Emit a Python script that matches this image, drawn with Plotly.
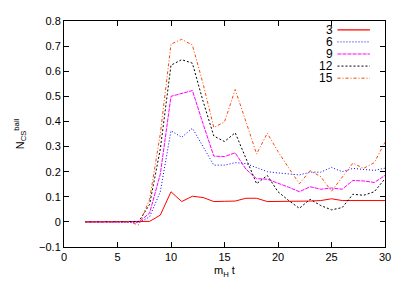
import plotly.graph_objects as go

# data
t = list(range(2, 31))
n3 = [0, 0, 0, 0, 0, 0, 0.002, 0.027, 0.12, 0.081, 0.102, 0.097, 0.081, 0.082,
      0.083, 0.094, 0.094, 0.081, 0.081, 0.081, 0.081, 0.083, 0.085, 0.092, 0.085,
      0.085, 0.085, 0.085, 0.085]
n6 = [0, 0, 0, 0, 0, -0.003, 0.02, 0.12, 0.363, 0.337, 0.373, 0.30, 0.226, 0.226,
      0.236, 0.232, 0.217, 0.2, 0.195, 0.19, 0.187, 0.198, 0.198, 0.217, 0.2,
      0.213, 0.21, 0.205, 0.214]
n9 = [0, 0, 0, 0, 0, 0, 0.035, 0.19, 0.50, 0.51, 0.523, 0.39, 0.262, 0.26,
      0.275, 0.21, 0.172, 0.17, 0.155, 0.138, 0.12, 0.14, 0.13, 0.135, 0.13,
      0.165, 0.163, 0.157, 0.185]
n12 = [0, 0, 0, 0, 0, 0.002, 0.07, 0.29, 0.624, 0.646, 0.632, 0.48, 0.342, 0.32,
       0.355, 0.25, 0.152, 0.185, 0.12, 0.085, 0.054, 0.09, 0.065, 0.048, 0.057,
       0.11, 0.106, 0.12, 0.172]
n15 = [0, 0, 0, 0, 0, -0.012, 0.09, 0.35, 0.708, 0.727, 0.704, 0.55, 0.376, 0.398,
       0.527, 0.40, 0.27, 0.353, 0.28, 0.215, 0.152, 0.204, 0.18, 0.122, 0.18,
       0.234, 0.213, 0.236, 0.317]

names = ["3", "6", "9", "12", "15"]
series = [n3, n6, n9, n12, n15]
colors = ["#ff0000", "#0000ff", "#ff00ff", "#000000", "#ff4500"]
dashes = ["solid", "1px,2px", "4px,1px", "2px,2px", "3px,2px,1px,2px"]

FONT = "Liberation Sans, Arial, sans-serif"

fig = go.Figure()
for name, y, c, d in zip(names, series, colors, dashes):
    fig.add_trace(go.Scatter(x=t, y=y, mode="lines", name=name,
                             line=dict(color=c, width=1, dash=d)))

# gnuplot-style key: label on the left, sample on the right
for i, (name, c, d) in enumerate(zip(names, colors, dashes)):
    yk = 0.961 - i * 0.0535
    fig.add_annotation(x=0.84, y=yk, xref="paper", yref="paper", text=name,
                       showarrow=False, xanchor="right", yanchor="middle",
                       height=12, borderpad=0,
                       font=dict(size=12, color="black"))
    fig.add_shape(type="line", xref="paper", yref="paper", x0=0.852, x1=0.953,
                  y0=yk, y1=yk, line=dict(color=c, width=1.3 if d == "solid" else 1, dash=d))

axis = dict(showline=True, linecolor="black", linewidth=1, mirror="allticks",
            ticks="inside", ticklen=5, tickcolor="black", showgrid=False,
            zeroline=False, tickfont=dict(size=11, color="black"))

# page body adds 8px around the plot div, so the figure is 8px smaller
fig.update_layout(
    width=399, height=277,
    margin=dict(l=56, r=22, t=7, b=38),
    paper_bgcolor="white", plot_bgcolor="white",
    font=dict(family=FONT, size=11, color="black"),
    showlegend=False,
)
fig.update_xaxes(**axis, range=[0, 30], dtick=5,
                 title=dict(text="m<sub>H</sub> t", standoff=4, font=dict(size=11)))
fig.update_yaxes(**axis, range=[-0.1, 0.8], dtick=0.1, tickformat="~g",
                 title=dict(text="N<sub>CS</sub><sup>ball</sup>", standoff=12,
                            font=dict(size=11)))

fig.write_html("out.html")
